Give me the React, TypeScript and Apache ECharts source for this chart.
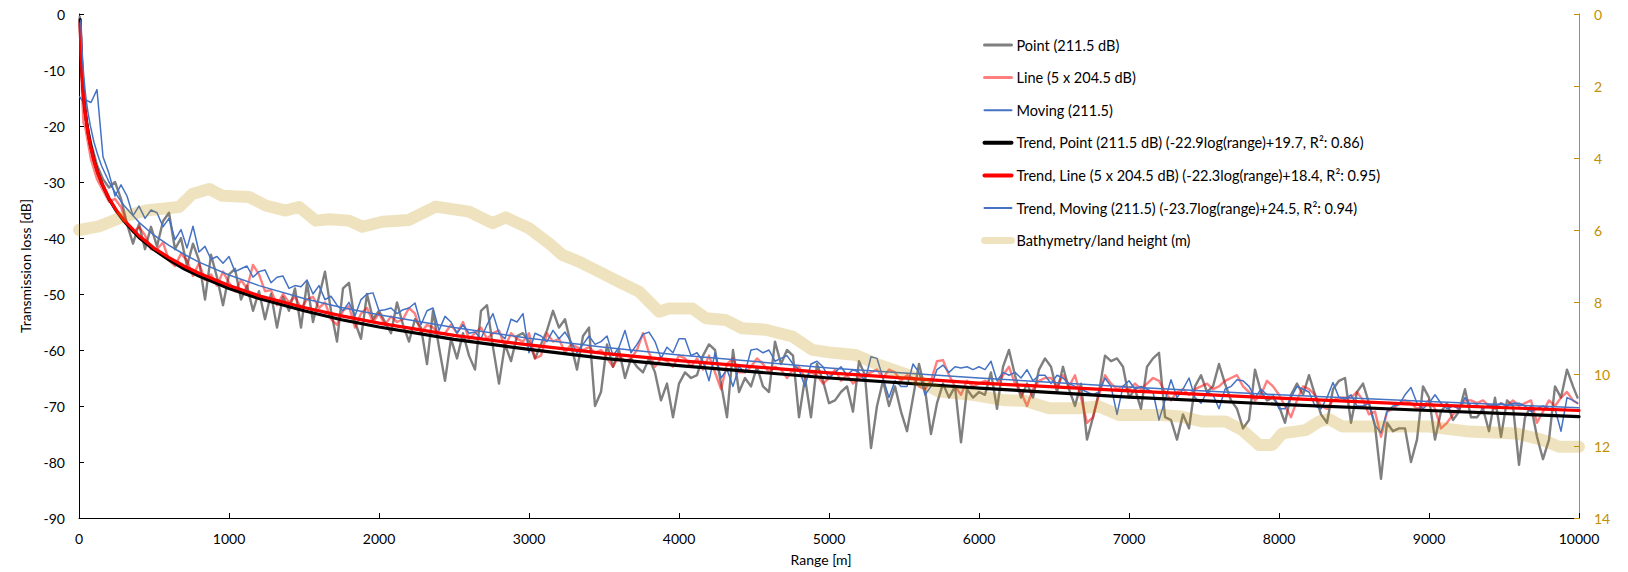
import React, { useEffect, useRef } from "react";
import * as echarts from "echarts";

// ---------- data ----------
// measured series: near-field ranges, then a 40 m grid 40..9960, then 9990
const nearRanges = [5, 10, 20, 30];
const gridStep = 40;
const gridCount = 249;
const lastRange = 9990;

const pointLoss = [
  -0.5, -5, -12, -16,
  -18, -23, -27, -29.5, -31, -30, -33, -37.5, -41, -37.5, -42, -38, -41.5, -37, -35.5, -42, -40, -45, -41, -44, -51, -43, -47, -52, -46.5,
  -45.5, -51, -48.5, -53, -49.5, -54.5, -50, -56, -50.5, -53, -49, -56, -48, -55, -50.5, -46, -53, -58.5, -49, -48, -55, -58, -50, -54.5, -53,
  -55, -57, -51.5, -55.5, -58.5, -54.5, -56, -62.5, -53, -59.5, -65.5, -58, -61.5, -57, -61, -63.5, -53, -52, -59.5, -66, -59, -62, -57.5, -57, -58.5,
  -61.5, -59, -56.5, -53, -56, -54.5, -59, -63.5, -57.5, -56, -70, -67.5, -59, -63, -60, -65, -61.5, -63, -64, -61.5, -64, -69, -66, -72, -66,
  -64, -65, -64.5, -61, -59, -60, -66, -72, -60, -67.5, -65, -66.5, -63, -66.5, -67.5, -58.5, -62.5, -60, -61, -72, -65, -72, -62.5, -65.5, -69.5,
  -69, -67.5, -66.5, -71, -62, -64.5, -77.5, -70, -65.5, -70, -66.5, -71, -74.5, -68.5, -62.5, -67, -75, -69.5, -66, -68.5, -66.5, -76.5, -67, -68.5, -67.5,
  -68, -64, -70.5, -63, -60, -64.5, -68.5, -66, -68.5, -63.5, -61.5, -63, -67.5, -63, -67, -70, -66, -76, -72, -67.5, -61, -62, -61.5, -63, -68.5,
  -67, -70.5, -63, -61.5, -60.5, -72, -72.5, -76, -71.5, -74, -66.5, -64.5, -67.5, -66.5, -62.5, -66, -69, -70.5, -74, -72.5, -63.5, -67.5, -69, -68.5, -70,
  -73, -68, -66, -68, -64.5, -68, -71.5, -73, -67, -65.5, -65, -73, -67.5, -66, -69.5, -73.5, -83, -73, -74.5, -74, -74, -80, -76, -66.5, -68.5,
  -76, -71, -69.5, -72.5, -71, -67, -72, -72, -70.5, -74.5, -68.5, -75.5, -69, -70, -80.5, -72, -70, -75.5, -79.5, -76, -66.5, -68.5, -63.5, -66.5,
  -68.5,
];

const lineLoss = [
  -1, -7, -14, -19.5,
  -20, -26, -29.5, -31.5, -33.5, -33, -34.5, -37.5, -39, -38, -39.5, -42, -42, -40.8, -44, -45, -42.8, -44, -46.8, -44.5, -47.5, -46.5, -48.5, -46, -48,
  -49.5, -47.5, -49, -44.8, -46.5, -49.5, -49.3, -52, -50, -51.5, -50.5, -52.5, -51, -50.5, -52.5, -51.5, -54.5, -55.5, -53, -52.2, -56, -53.5, -52.5, -55, -53.5,
  -55.5, -54, -55, -54.5, -52.5, -53.5, -57, -55.5, -56, -57, -57, -55.5, -57, -55, -58, -57, -56, -58, -57, -56.5, -59.5, -57, -58, -58.5, -57,
  -61.5, -61, -57, -58.5, -58, -60.5, -59, -59.5, -60, -59.5, -60.5, -60, -61.5, -63, -61, -62, -61.5, -60, -57, -60.5, -63, -61.5, -62, -63, -61,
  -61.5, -63, -61.5, -63.5, -61, -64, -67, -62.5, -61.5, -64, -64, -63, -61.5, -62.5, -64, -63, -63.5, -65, -63.5, -63, -65, -64, -64.5, -66, -65,
  -63.5, -65.5, -64.5, -66, -65, -64.5, -64, -63.5, -65, -63.5, -64, -65.5, -64.5, -65, -66.5, -67, -65.5, -62, -61.8, -64.5, -66.5, -68, -65.5, -66.5, -66,
  -65.5, -66, -66, -64.5, -63, -66, -67.5, -70, -67, -65.5, -65, -65, -66.5, -64.5, -66.5, -64.5, -68.5, -73, -72, -68, -64.5, -66, -67, -66.5, -67,
  -66, -67, -66, -65, -65.5, -67.5, -69, -67.5, -67, -68, -67, -66.5, -66, -67, -66.5, -65.5, -65, -64.5, -66.5, -67.5, -69, -68, -65.5, -66.5, -68,
  -70, -72, -69, -66.5, -67, -68, -70, -70.5, -69, -68.5, -68.5, -68.5, -67.5, -69, -71.5, -71, -75.5, -71, -70.5, -69.5, -69, -69.5, -70.5, -70, -69,
  -70.5, -74, -73, -71.5, -70.5, -69, -69, -69.5, -69, -70, -70.5, -69.5, -70, -69, -70, -69.5, -69, -73, -71, -69, -70, -68.5, -67.5, -69,
  -69.5,
];

const movingLoss = [
  -14.8, -15, -15.4, -15.2,
  -15.3, -15.8, -13.5, -25.5, -28.5, -32.5, -30.5, -32.5, -36, -34.3, -36.5, -35, -35.5, -38, -36.5, -40.3, -38.5, -41.8, -37.9, -42.5, -41.5, -43.8, -43.3, -44.5, -43.3,
  -46, -45.5, -45, -47, -46, -45.7, -48, -47, -46.8, -49, -48.5, -48.7, -47.5, -50, -48.5, -51, -50.4, -52, -53, -51.5, -53.9, -51, -50, -49.8, -53,
  -52.8, -52.5, -53.5, -52.8, -52.5, -51.6, -55.5, -53, -52.5, -56.5, -54, -55, -57, -55.5, -57, -56.8, -58, -55.5, -53.5, -57, -58, -54.5, -55, -53.5, -60.5,
  -57, -57.5, -58.5, -56.5, -58, -56.8, -58.5, -60.5, -59, -57.5, -59, -58.5, -57.5, -61, -59.5, -56.5, -60.5, -59, -57.2, -56.8, -58.5, -61.5, -59.5, -60.5, -58,
  -58, -61, -60.5, -62, -65.5, -60.5, -65, -63.5, -66.5, -63, -64, -60, -59.8, -60.5, -60, -62, -61.5, -61, -62.5, -63.5, -66.5, -62.5, -62, -63, -65,
  -64, -63, -64.5, -63.5, -64, -65.5, -61.2, -61.5, -65, -68.5, -65.5, -66.5, -66.5, -62.5, -64, -68, -66.5, -63.5, -62.7, -64, -63, -63.2, -63, -63.5, -63,
  -63.5, -62, -65.5, -64, -64.5, -64, -65, -63.5, -65.5, -64.5, -64.5, -66, -64.5, -65, -66, -66.5, -67, -67.5, -68, -67.5, -65, -66.5, -71.5, -66.5, -65.5,
  -67, -66.5, -67, -67.5, -72.5, -69, -65.3, -68.5, -67, -65, -68.5, -69.5, -67.5, -68, -70.5, -67, -66.5, -65.3, -65.5, -66.5, -68.5, -67, -68, -68, -70.5,
  -70.5, -68.5, -66.5, -67, -67.5, -70, -70.5, -68.5, -65.8, -68.5, -68.8, -68, -70, -70, -69.5, -73.5, -74.8, -71, -70, -69.8, -68, -66.7, -69.5, -70.5, -69.5,
  -68, -69.5, -70.5, -70, -70.5, -68.5, -70, -69.8, -70.5, -69.8, -70, -69.5, -70, -69.5, -69.5, -70, -71, -70.5, -70, -70.5, -70.5, -74.5, -68.5, -69,
  -69.5,
];

// trend curves (read at selected ranges)
const trendPointRange = [8, 10, 12, 15, 20, 25, 30, 40, 50, 60, 75, 100, 125, 150, 200, 250, 300, 400, 500, 600, 700, 800, 1000, 1200, 1500, 1750, 2000, 2500, 3000, 3500, 4000, 5000, 6000, 7000, 8000, 9000, 10000];
const trendPointLoss = [-1.0, -3.2, -5.0, -7.2, -10.1, -12.3, -14.1, -17.0, -19.2, -21.0, -23.2, -26.1, -28.3, -30.1, -33.0, -35.2, -37.0, -39.9, -42.1, -43.9, -45.5, -46.8, -49.0, -50.8, -53.0, -54.6, -55.9, -58.1, -59.9, -61.5, -62.8, -65.0, -66.8, -68.4, -69.7, -70.8, -71.9];
const trendLineRange = [8, 10, 12, 15, 20, 25, 30, 40, 50, 60, 75, 100, 125, 150, 200, 250, 300, 400, 500, 600, 700, 800, 1000, 1200, 1500, 1750, 2000, 2500, 3000, 3500, 4000, 5000, 6000, 7000, 8000, 9000, 10000];
const trendLineLoss = [-1.7, -3.9, -5.7, -7.8, -10.6, -12.8, -14.5, -17.3, -19.5, -21.3, -23.4, -26.2, -28.4, -30.1, -32.9, -35.1, -36.8, -39.6, -41.8, -43.5, -45.0, -46.3, -48.5, -50.3, -52.4, -53.9, -55.2, -57.4, -59.1, -60.6, -61.9, -64.1, -65.9, -67.3, -68.6, -69.8, -70.8];
const trendMovingRange = [12, 15, 20, 25, 30, 40, 50, 60, 75, 100, 125, 150, 200, 250, 300, 400, 500, 600, 700, 800, 1000, 1200, 1500, 1750, 2000, 2500, 3000, 3500, 4000, 5000, 6000, 7000, 8000, 9000, 10000];
const trendMovingLoss = [-1.1, -3.4, -6.3, -8.6, -10.5, -13.5, -15.8, -17.6, -19.9, -22.9, -25.2, -27.1, -30.0, -32.3, -34.2, -37.2, -39.5, -41.3, -42.9, -44.3, -46.6, -48.5, -50.8, -52.4, -53.7, -56.0, -57.9, -59.5, -60.9, -63.2, -65.0, -66.6, -68.0, -69.2, -70.3];

// bathymetry / land height (m), right axis
const bathyRange = [0, 133, 289, 444, 667, 756, 867, 956, 1133, 1244, 1378, 1467, 1578, 1667, 1800, 1889, 2022, 2200, 2378, 2600, 2756, 2844, 3000, 3133, 3222, 3333, 3467, 3600, 3733, 3867, 3933, 4089, 4178, 4311, 4422, 4578, 4756, 4889, 5000, 5178, 5333, 5533, 5733, 5956, 6156, 6311, 6467, 6667, 6800, 6933, 7222, 7356, 7489, 7644, 7756, 7867, 7956, 8022, 8178, 8267, 8333, 8422, 8600, 9000, 9267, 9578, 9756, 9867, 10000];
const bathyDepth = [6.0, 5.9, 5.64, 5.46, 5.36, 5.0, 4.86, 5.05, 5.08, 5.32, 5.46, 5.36, 5.74, 5.7, 5.74, 5.91, 5.77, 5.72, 5.35, 5.49, 5.81, 5.65, 5.95, 6.37, 6.69, 6.88, 7.16, 7.44, 7.71, 8.27, 8.18, 8.18, 8.45, 8.5, 8.73, 8.77, 8.96, 9.33, 9.4, 9.47, 9.75, 10.03, 10.49, 10.58, 10.72, 10.75, 10.95, 10.95, 10.9, 11.14, 11.14, 11.19, 11.32, 11.32, 11.56, 11.97, 11.97, 11.65, 11.56, 11.32, 11.25, 11.46, 11.46, 11.46, 11.6, 11.65, 11.83, 12.02, 12.02];

const seriesNames = [
  "Point (211.5 dB)",
  "Line (5 x 204.5 dB)",
  "Moving (211.5)",
  "Trend, Point (211.5 dB) (-22.9log(range)+19.7, R²: 0.86)",
  "Trend, Line (5 x 204.5 dB) (-22.3log(range)+18.4, R²: 0.95)",
  "Trend, Moving (211.5) (-23.7log(range)+24.5, R²: 0.94)",
  "Bathymetry/land height (m)",
];

// ---------- helpers ----------
function buildMeasRanges(): number[] {
  const r = [...nearRanges];
  for (let i = 1; i <= gridCount; i++) r.push(i * gridStep);
  r.push(lastRange);
  return r;
}
const measRanges = buildMeasRanges();
const pairs = (xs: number[], ys: number[]) => ys.map((y, i) => [xs[i], y]);

const FONT = "Lato";
const GOLD = "#BF9000";

export default function App() {
  const ref = useRef<HTMLDivElement>(null);

  useEffect(() => {
    if (!ref.current) return;
    const chart = echarts.init(ref.current, undefined, { renderer: "svg" });

    const colors = ["#7F7F7F", "rgba(255,0,0,0.5)", "#4472C4", "#000000", "#FF0000", "#4472C4", "rgba(191,144,0,0.25)"];
    const widths = [2.4, 2.4, 1.5, 3.2, 3.2, 1.5, 12];
    const legendWidths = [3, 3, 2, 4, 4, 2, 7];
    const datasets = [
      pairs(measRanges, pointLoss),
      pairs(measRanges, lineLoss),
      pairs(measRanges, movingLoss),
      pairs(trendPointRange, trendPointLoss),
      pairs(trendLineRange, trendLineLoss),
      pairs(trendMovingRange, trendMovingLoss),
      pairs(bathyRange, bathyDepth),
    ];

    const series = seriesNames.map((name, i) => ({
      name,
      type: "line",
      data: datasets[i],
      yAxisIndex: i === 6 ? 1 : 0,
      symbol: "none",
      smooth: false,
      lineStyle: {
        color: colors[i],
        width: widths[i],
        cap: "round",
        join: "round",
      },
      itemStyle: { color: colors[i] },
      clip: true,
      z: 2,
    }));

    chart.setOption({
      animation: false,
      backgroundColor: "#ffffff",
      textStyle: { fontFamily: FONT },
      grid: { left: 79, right: 49, top: 14, bottom: 54, containLabel: false },
      legend: {
        orient: "vertical",
        left: 976,
        top: 32,
        itemWidth: 27,
        itemHeight: 14,
        itemGap: 16.6,
        selectedMode: false,
        itemStyle: { opacity: 0 },
        textStyle: { fontFamily: FONT, fontSize: 14.5, color: "#000", lineHeight: 16 },
        data: seriesNames.map((name, i) => ({
          name,
          lineStyle: { width: legendWidths[i], color: colors[i], cap: "round" },
        })),
      },
      xAxis: {
        type: "value",
        min: 0,
        max: 10000,
        interval: 1000,
        name: "Range [m]",
        nameLocation: "middle",
        nameGap: 34,
        nameTextStyle: { fontFamily: FONT, fontSize: 14, color: "#000", padding: [0, 16, 0, 0] },
        axisLine: { show: true, onZero: false, lineStyle: { color: "#000", width: 1 } },
        axisTick: { show: true, inside: true, length: 5, lineStyle: { color: "#000" } },
        axisLabel: { fontFamily: FONT, fontSize: 14, color: "#000", margin: 13, formatter: (v: number) => String(v) },
        splitLine: { show: false },
      },
      yAxis: [
        {
          type: "value",
          min: -90,
          max: 0,
          interval: 10,
          position: "left",
          name: "Transmission loss [dB]",
          nameLocation: "middle",
          nameGap: 38,
          nameTextStyle: { fontFamily: FONT, fontSize: 14, color: "#000" },
          axisLine: { show: true, onZero: false, lineStyle: { color: "#000", width: 1 } },
          axisTick: { show: true, inside: true, length: 5, lineStyle: { color: "#000" } },
          axisLabel: { fontFamily: FONT, fontSize: 14, color: "#000", margin: 14 },
          splitLine: { show: false },
        },
        {
          type: "value",
          min: 0,
          max: 14,
          interval: 2,
          inverse: true,
          position: "right",
          axisLine: { show: true, onZero: false, lineStyle: { color: GOLD, width: 1 } },
          axisTick: { show: true, inside: true, length: 5, lineStyle: { color: GOLD } },
          axisLabel: { fontFamily: FONT, fontSize: 14, color: GOLD, margin: 15 },
          splitLine: { show: false },
        },
      ],
      series,
    });

    return () => {
      chart.dispose();
    };
  }, []);

  return (
    <div
      ref={ref}
      style={{ position: "fixed", left: 0, top: 0, width: 1628, height: 572, background: "#fff" }}
    />
  );
}
